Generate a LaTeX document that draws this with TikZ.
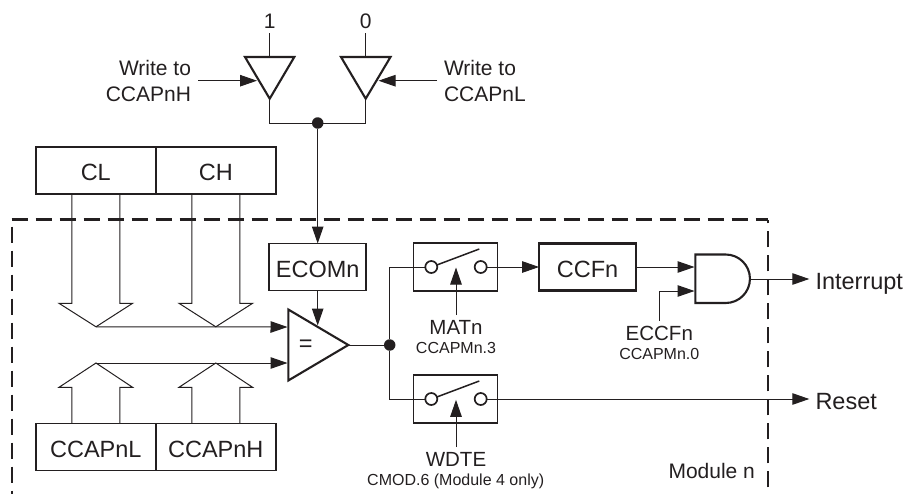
\documentclass[tikz,border=0pt]{standalone}
\usepackage{fontspec}
\setmainfont{Liberation Sans}
\usetikzlibrary{arrows.meta,calc}
\definecolor{ink}{HTML}{231F20}
\tikzset{
  every path/.style={color=ink},
  every node/.style={text=ink,inner sep=0pt,outer sep=0pt},
  wire/.style={line width=1pt},
  arr/.style={wire,-{Triangle[length=17pt,width=11.5pt]}},
  regbox/.style={draw,line width=1.8pt,minimum height=47pt,text height=20.5pt,text depth=.5pt,font=\fontsize{23.5}{24}\selectfont},
  gate/.style={draw,line width=2.1pt,line join=miter,fill=white},
  swbox/.style={draw,line width=1.1pt,minimum width=84pt,minimum height=48pt},
  pin/.style={draw,circle,line width=1.7pt,minimum size=12pt,fill=white},
  dot/.style={circle,fill=ink,minimum size=11.5pt},
  big/.style={anchor=base,font=\fontsize{21}{22}\selectfont},
  large/.style={anchor=base,font=\fontsize{23.5}{24}\selectfont},
  small/.style={anchor=base,font=\fontsize{16}{17}\selectfont},
  bus/.style={wire,line join=miter},
  modframe/.style={line width=2.2pt,dash pattern=on 16pt off 8pt}
}
\begin{document}
\begin{tikzpicture}[x=1pt,y=-1pt]
\useasboundingbox (0,0) rectangle (908,493);
% module frame
\draw[modframe] (11.7,219.5) -- (767.7,219.5);
\draw[modframe] (11.7,226.7) -- (11.7,495);
\draw[modframe] (767.7,487.3) -- (767.7,219.5);
% registers
\node[regbox,minimum width=120pt] (cl) at (95.8,170.5) {CL};
\node[regbox,minimum width=120pt] (ch) at (215.8,170.5) {CH};
\node[regbox,minimum width=120pt] (ccl) at (95.8,447) {CCAPnL};
\node[regbox,minimum width=120pt] (cch) at (215.8,447) {CCAPnH};
\node[regbox,minimum width=97pt] (ecom) at (317.7,267) {ECOMn};
\node[regbox,minimum width=97pt,line width=2.3pt] (ccf) at (587.6,267) {CCFn};
% tri-state buffers
\coordinate (b1a) at (245,57); \coordinate (b1b) at (294.3,57); \coordinate (b1t) at (269.7,98.7);
\coordinate (b0a) at (341,57); \coordinate (b0b) at (390.5,57); \coordinate (b0t) at (365.7,98.7);
\draw[gate] (b1a) -- (b1b) -- (b1t) -- cycle;
\draw[gate] (b0a) -- (b0b) -- (b0t) -- cycle;
\node[big] (one) at (269.7,28) {1};
\node[big] (zero) at (365.7,28) {0};
\draw[wire] (one.south |- 0,33) -- (269.7,57);
\draw[wire] (zero.south |- 0,33) -- (365.7,57);
\node[big,anchor=base east] (wh1) at (191,75) {Write to};
\node[big,anchor=base east] (wh2) at (191,101) {CCAPnH};
\node[big,anchor=base west] (wl1) at (444,75) {Write to};
\node[big,anchor=base west] (wl2) at (444,101) {CCAPnL};
\coordinate (whs) at (198,80.7); \coordinate (whe) at (257,80.7);
\coordinate (wls) at (437,80.7); \coordinate (wle) at (378.5,80.7);
\draw[arr] (whs) -- (whe);
\draw[arr] (wls) -- (wle);
\node[dot] (top) at (317.7,123) {};
\draw[wire] (b1t) -- (269.7,123) -- (top);
\draw[wire] (b0t) -- (365.7,123) -- (top);
\draw[arr] (top) -- (ecom.north);
% comparator
\coordinate (cma) at (288.3,309.5); \coordinate (cmb) at (288.3,380.5); \coordinate (cmt) at (348.3,345);
\coordinate (cmu) at (287.5,327); \coordinate (cml) at (287.5,363);
\draw[gate] (cma) -- (cmt) -- (cmb) -- cycle;
\node[font=\fontsize{23.5}{24}\selectfont] (eq) at (305.7,346) {=};
\draw[arr] (ecom.south) -- (317.7,325.5);
% bus arrows down
\coordinate (cltip) at (96,326.8); \coordinate (chtip) at (215.8,326.8);
\coordinate (cctipl) at (96,363); \coordinate (cctiph) at (215.8,363);
\draw[bus] (71.8,194) -- (71.8,303.3) -- (59,303.3) -- (cltip) -- (132.6,303.3) -- (119.8,303.3) -- (119.8,194);
\draw[bus] (191.8,194) -- (191.8,303.3) -- (179,303.3) -- (chtip) -- (252.6,303.3) -- (239.8,303.3) -- (239.8,194);
\draw[bus] (71.8,423.5) -- (71.8,387.3) -- (59,387.3) -- (cctipl) -- (132.6,387.3) -- (119.8,387.3) -- (119.8,423.5);
\draw[bus] (191.8,423.5) -- (191.8,387.3) -- (179,387.3) -- (cctiph) -- (252.6,387.3) -- (239.8,387.3) -- (239.8,423.5);
\draw[arr] (cltip) -- (cmu);
\draw[arr] (cctipl) -- (cml);
% split
\node[dot] (split) at (389.7,345) {};
\draw[wire] (cmt) -- (split);
% switches
\node[swbox] (sw1) at (455.7,267) {};
\node[swbox] (sw2) at (455.7,399) {};
\node[pin] (s1a) at (431.3,267) {};
\node[pin] (s1b) at (480.7,267) {};
\node[pin] (s2a) at (431.3,399) {};
\node[pin] (s2b) at (480.7,399) {};
\draw[wire,line width=1.5pt] (s1a.20) -- (479.3,249);
\draw[wire,line width=1.5pt] (s2a.20) -- (479.3,381);
\draw[wire] (split) |- (s1a);
\draw[wire] (split) |- (s2a);
\draw[arr] (s1b) -- (ccf.west);
% labels under switches
\node[big,font=\fontsize{20.5}{22}\selectfont] (mat) at (456,334.3) {MATn};
\node[small] (matb) at (456,353.3) {CCAPMn.3};
\node[big,font=\fontsize{20.5}{22}\selectfont] (wdte) at (456,466) {WDTE};
\node[small] (wdteb) at (455.7,485.5) {CMOD.6 (Module 4 only)};
\coordinate (sc1) at (456,315); \coordinate (sc1t) at (456,267.5);
\coordinate (sc2) at (456,447); \coordinate (sc2t) at (456,399.8);
\draw[arr] (sc1) -- (sc1t);
\draw[arr] (sc2) -- (sc2t);
% AND gate
\coordinate (anda) at (695.3,254.5); \coordinate (andb) at (695.3,303); \coordinate (ando) at (750,279);
\draw[gate] (anda) -- (725.7,254.5) arc[start angle=-90,end angle=90,radius=24.25pt,y radius=-24.25pt] -- (andb) -- cycle;
\coordinate (andi1) at (694.5,267); \coordinate (andi2) at (694.5,291);
\draw[arr] (ccf.east) -- (andi1);
\node[big,font=\fontsize{20.5}{22}\selectfont] (eccf) at (659.3,340) {ECCFn};
\node[small] (eccfb) at (659.3,359) {CCAPMn.0};
\coordinate (ecs) at (659.3,320.7);
\draw[arr] (ecs) |- (andi2);
% outputs
\node[large,anchor=base west] (intr) at (815.5,289) {Interrupt};
\node[large,anchor=base west] (rst) at (815.5,409) {Reset};
\coordinate (intre) at (809.3,279); \coordinate (rste) at (809.3,399);
\draw[arr] (ando) -- (intre);
\draw[arr] (s2b) -- (rste);
\node[big] (mod) at (711.7,478.3) {Module n};
\end{tikzpicture}
\end{document}
